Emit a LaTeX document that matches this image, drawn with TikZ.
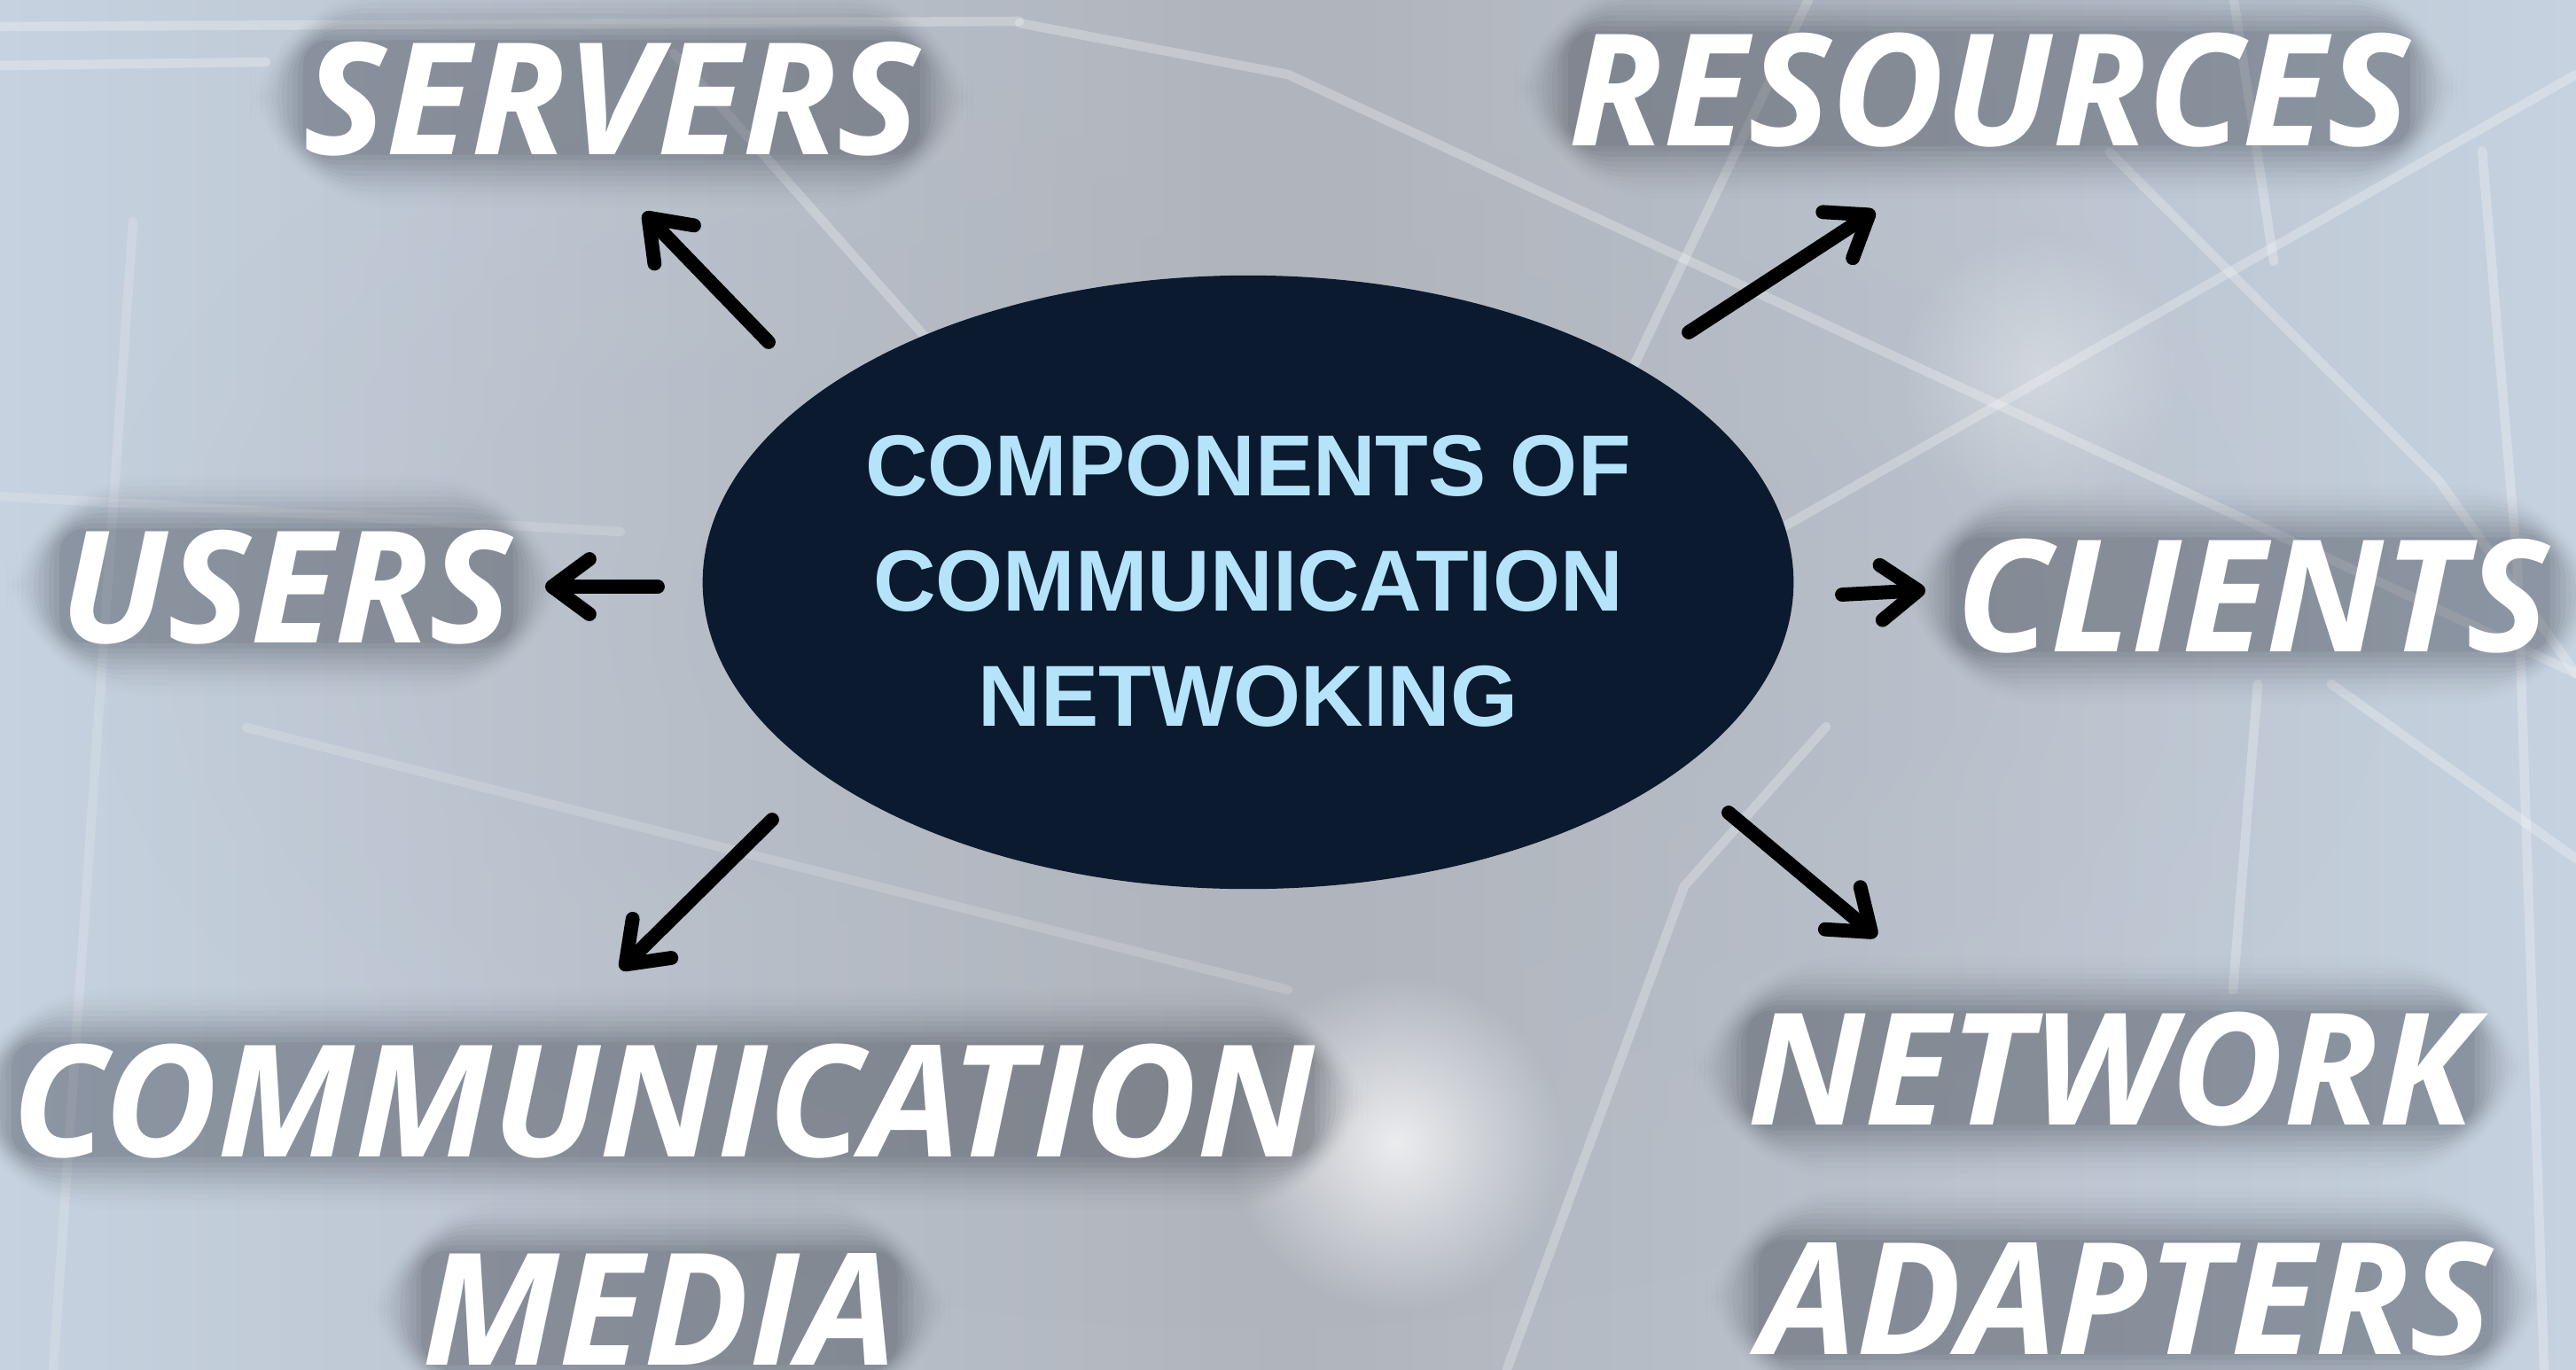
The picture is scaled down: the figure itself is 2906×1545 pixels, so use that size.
\documentclass[tikz,border=0pt]{standalone}
\usepackage{fontspec}
\setmainfont{Liberation Sans}
\IfFontExistsTF{Open Sans ExtraBold Italic}
  {\newfontfamily\labfontbase{Open Sans ExtraBold Italic}\newcommand{\labfont}{\labfontbase}}
  {\newfontfamily\labfontbase{Open Sans}\newcommand{\labfont}{\labfontbase\bfseries\itshape}}
\newfontfamily\titlefont{Liberation Sans}
\usetikzlibrary{arrows.meta,shapes.geometric,fadings}

\definecolor{bgmid}{RGB}{176,180,188}
\definecolor{bgedge}{RGB}{198,210,224}
\definecolor{navy}{RGB}{11,26,46}
\definecolor{titleblue}{RGB}{181,228,250}
\definecolor{haze}{RGB}{45,50,60}

\tikzfading[name=softdot, inner color=transparent!0, outer color=transparent!100]

\pgfdeclarelayer{bg}
\pgfsetlayers{bg,main}

\newcommand{\labelglow}[1]{%
  \begin{pgfonlayer}{bg}
    \foreach \m/\r/\o in {0/8/0.07,6/12/0.06,12/16/0.055,18/20/0.05,24/24/0.045,30/28/0.038,36/32/0.03,42/36/0.024,48/40/0.018,54/44/0.012,60/48/0.008} {
      \fill[haze, opacity=\o, rounded corners=\r pt]
        ([shift={(-\m,\m)}]#1.south west) rectangle ([shift={(\m,-\m)}]#1.north east);
    }
  \end{pgfonlayer}}

\begin{document}
\begin{tikzpicture}[x=0.01cm,y=-0.01cm,
  lab/.style={font=\labfont\fontsize{50}{60}\selectfont,
    text=white, inner sep=0pt, text height=36.4pt, text depth=0pt},
  hubtext/.style={font=\titlefont\bfseries\fontsize{27.8}{37}\selectfont,
    text=titleblue, align=center, inner sep=0pt},
  hub/.style={ellipse, fill=navy, minimum width=12.3cm, minimum height=6.92cm, inner sep=0pt},
  arr/.style={line width=4.5pt, line cap=round, black,
    -{Straight Barb[round, length=0.42cm, width=0.62cm]}},
  bgline/.style={white, opacity=0.26, line width=3pt, line cap=round}]

\useasboundingbox (0,0) rectangle (2906,1545);

% ---------- background ----------
\begin{pgfonlayer}{bg}
  \shade[left color=bgedge, right color=bgedge, middle color=bgmid] (0,0) rectangle (2906,1545);
  \fill[bgmid, opacity=0.55, path fading=softdot] (1400,700) ellipse (1300 and 800);
  % network lines
  \draw[bgline] (0,30) -- (1150,24);
  \draw[bgline] (0,74) -- (300,70);
  \draw[bgline] (1150,26) -- (1453,84) -- (2906,760);
  \draw[bgline] (2906,84) -- (1880,670);
  \draw[bgline] (2040,0) -- (1830,440);
  \draw[bgline] (760,60) -- (1070,410);
  \draw[bgline] (2380,172) -- (2751,542) -- (2906,760);
  \draw[bgline] (2520,0) -- (2565,295);
  \draw[bgline] (2800,170) -- (2840,640) -- (2870,1545);
  \draw[bgline] (2630,772) -- (2906,969);
  \draw[bgline] (2547,772) -- (2519,1117);
  \draw[bgline] (1700,1545) -- (1900,1000) -- (2060,820);
  \draw[bgline, opacity=0.16] (278,821) -- (1453,1117);
  \draw[bgline, opacity=0.16] (0,560) -- (700,600);
  \draw[bgline, opacity=0.16] (150,250) -- (60,1545);
  \fill[white, opacity=0.75, path fading=softdot] (1575,1290) circle (190);
  \fill[white, opacity=0.35, path fading=softdot] (2300,420) circle (160);
\end{pgfonlayer}

% ---------- hub ----------
\node[hub] (ell) at (1408,657) {};
\node[hubtext] (title) at (1408,656) {COMPONENTS OF\\COMMUNICATION\\NETWOKING};

% ---------- labels ----------
\node[lab] (servers)   at (690,110)   {SERVERS};
\node[lab] (resources) at (2244,100)  {RESOURCES};
\node[lab] (users)     at (323,661)   {USERS};
\node[lab] (clients)   at (2541,671)  {CLIENTS};
\node[lab] (commun)    at (748,1241)  {COMMUNICATION};
\node[lab] (media)     at (744,1476)  {MEDIA};
\node[lab] (network)   at (2381,1205) {NETWORK};
\node[lab] (adapters)  at (2398,1464) {ADAPTERS};

\labelglow{servers}
\labelglow{resources}
\labelglow{users}
\labelglow{clients}
\labelglow{commun}
\labelglow{media}
\labelglow{network}
\labelglow{adapters}

% ---------- arrow end points ----------
\coordinate (sT) at (867,386);   \coordinate (sH) at (726,240);
\coordinate (rT) at (1905,375);  \coordinate (rH) at (2115,238);
\coordinate (uT) at (742,662);   \coordinate (uH) at (615,662);
\coordinate (cT) at (2078,671);  \coordinate (cH) at (2172,666);
\coordinate (mT) at (871,925);   \coordinate (mH) at (700,1094);
\coordinate (aT) at (1950,917);  \coordinate (aH) at (2117,1057);

\draw[arr] (sT) -- (sH);
\draw[arr] (rT) -- (rH);
\draw[arr] (uT) -- (uH);
\draw[arr] (cT) -- (cH);
\draw[arr] (mT) -- (mH);
\draw[arr] (aT) -- (aH);

\end{tikzpicture}
\end{document}
